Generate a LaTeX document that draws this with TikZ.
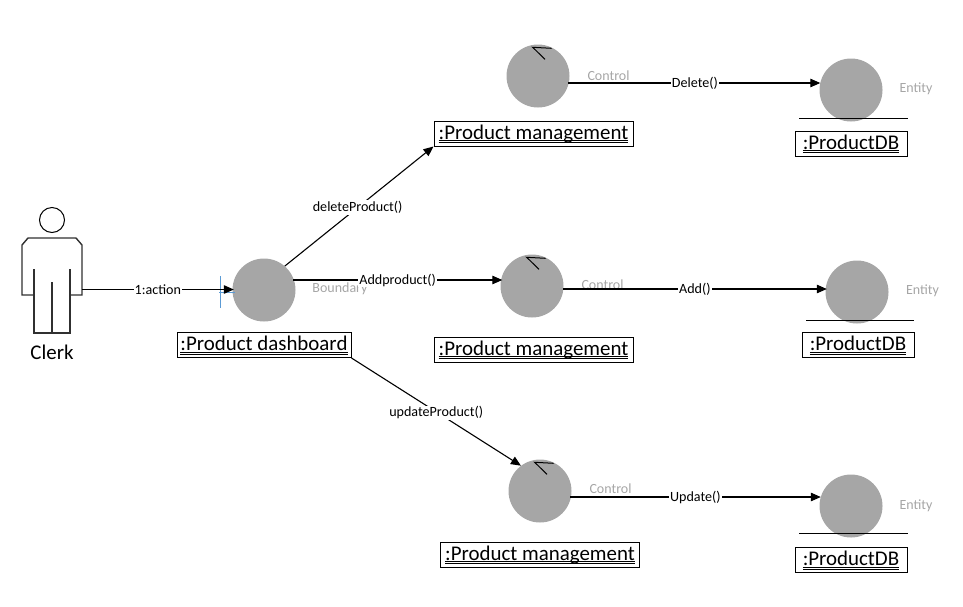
\documentclass[tikz,border=0pt]{standalone}
\usepackage{fontspec}
\setmainfont{Carlito}
\usetikzlibrary{arrows.meta}
\definecolor{blob}{HTML}{A6A6A6}
\definecolor{bodyline}{HTML}{303030}
\definecolor{tag}{HTML}{A6A6A6}
\definecolor{bluemark}{HTML}{5B9BD5}
\tikzset{
  x=1pt,y=-1pt,
  blob/.style={circle,fill=blob,draw=none,minimum size=63pt,inner sep=0pt},
  objbox/.style={draw=black,line width=1pt,inner sep=0pt,minimum height=25pt,text height=18pt,text depth=7pt,font=\fontsize{20.9}{21}\selectfont},
  tagtext/.style={text=tag,font=\fontsize{14}{14}\selectfont,inner sep=0pt},
  msg/.style={fill=white,inner sep=1pt,font=\fontsize{14.1}{15}\selectfont},
  conn/.style={draw=black,line width=1.1pt,-{Triangle[length=10pt,width=8.5pt]}},
  plainline/.style={draw=black,line width=1pt},
  actorline/.style={draw=bodyline,line width=1.4pt},
}
\newcommand{\objlabel}[1]{\underline{\underline{\smash{#1}}}}
\begin{document}
\begin{tikzpicture}
\useasboundingbox (0,0) rectangle (963,606);
% actor
\node[circle,draw=black,line width=1pt,minimum size=25pt,inner sep=0pt] (head) at (52,220) {};
\draw[actorline] (34,295) -- (22,295) -- (22,245) -- (28,238) -- (76,238) -- (82,245) -- (82,295) -- (70,295);
\draw[actorline] (34,269) -- (34,333) -- (70,333) -- (70,269);
\draw[actorline] (52,282) -- (52,333);
\coordinate (actorhand) at (82,289.5);
\node[font=\fontsize{20.9}{21}\selectfont,inner sep=0pt] (clerk) at (52,352) {Clerk};
% objects
\node[blob] (bound) at (264,290) {};
\node[blob] (c1) at (538,76) {};
\node[blob] (c2) at (532,286) {};
\node[blob] (c3) at (540,491) {};
\node[blob] (e1) at (851,90) {};
\node[blob] (e2) at (857,292) {};
\node[blob] (e3) at (851,506) {};
\foreach \c in {c1,c2,c3}{
  \draw[plainline,line width=1pt] ([shift={(13.7,-27.7)}]\c.center) -- ([shift={(-5.3,-28.7)}]\c.center) -- ([shift={(7,-16.7)}]\c.center);
}
\draw[plainline] (799,118) -- (908,118);
\draw[plainline] (806,320) -- (914,320);
\draw[plainline] (799,533) -- (908,533);
% blue marker
\draw[bluemark,line width=0.8pt] (220,276) -- (220,308);
\draw[bluemark,line width=0.8pt] (219,292) -- (235,292);
% tags
\node[tagtext] (tb) at (340,289) {Boundary};
\node[tagtext] (tc1) at (608.5,75.5) {Control};
\node[tagtext] (tc2) at (602.5,284.5) {Control};
\node[tagtext] (tc3) at (610.5,488.5) {Control};
\node[tagtext] (te1) at (916,88.5) {Entity};
\node[tagtext] (te2) at (922.5,290.5) {Entity};
\node[tagtext] (te3) at (916,505.5) {Entity};
% boxes
\node[objbox,minimum width=199pt] (pm1) at (533.5,133.5) {\objlabel{:Product management}};
\node[objbox,minimum width=199pt] (pm2) at (533.5,349.5) {\objlabel{:Product management}};
\node[objbox,minimum width=199pt] (pm3) at (540,554.5) {\objlabel{:Product management}};
\node[objbox,minimum width=174pt] (pd) at (264,345) {\objlabel{:Product dashboard}};
\node[objbox,minimum width=112pt] (db1) at (851,143.5) {\objlabel{:ProductDB}};
\node[objbox,minimum width=112pt] (db2) at (858,345) {\objlabel{:ProductDB}};
\node[objbox,minimum width=112pt] (db3) at (851,560) {\objlabel{:ProductDB}};
% connectors
\path[conn] (actorhand) -- ([xshift=1.5pt]bound.west |- actorhand) node[msg,pos=0.5] {1:action};
\path[conn] (bound.49) -- (pm1.south west) node[msg,pos=0.49] {deleteProduct()};
\coordinate (boundr) at (293,280);
\path[conn] (boundr) -- ([xshift=2pt]c2.west |- boundr) node[msg,pos=0.5] {Addproduct()};
\path[conn] (pd.south east) -- (c3.127) node[msg,yshift=-1pt,pos=0.5] {updateProduct()};
\coordinate (c1r) at (568,83);
\path[conn] (c1r) -- ([xshift=1pt]e1.west |- c1r) node[msg,pos=0.503] {Delete()};
\coordinate (c2r) at (563,289);
\path[conn] (c2r) -- ([xshift=1.5pt]e2.west |- c2r) node[msg,pos=0.5] {Add()};
\coordinate (c3r) at (570,497);
\path[conn] (c3r) -- ([xshift=1.5pt]e3.west |- c3r) node[msg,pos=0.5] {Update()};
\end{tikzpicture}
\end{document}
